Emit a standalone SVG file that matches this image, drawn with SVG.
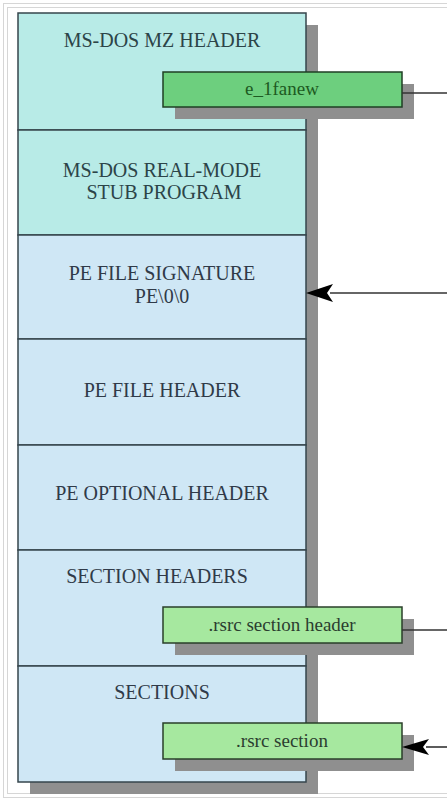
<svg xmlns="http://www.w3.org/2000/svg" width="447" height="800" viewBox="0 0 447 800">
  <defs>
    <style>
      .frame { fill: none; stroke: #d6d6d6; stroke-width: 1; }
      .shadow { fill: #8f8f8f; }
      .cellA { fill: #b8ebe7; stroke: #36464c; stroke-width: 1.5; }
      .cellB { fill: #cfe7f5; stroke: #36464c; stroke-width: 1.5; }
      text { font-family: 'Liberation Serif', 'DejaVu Serif', serif; text-anchor: middle; }
      .lbl { font-size: 20px; }
      .lblA { fill: #2c4448; }
      .lblB { fill: #303a48; }
      .g1 { fill: #6dcf7e; stroke: #1f3f24; stroke-width: 1.5; }
      .g2 { fill: #a6e89f; stroke: #2a3f2a; stroke-width: 1.5; }
      .glbl { font-size: 19px; }
      .conn { fill: none; stroke: #333; stroke-width: 1.6; }
      .head { fill: #000; }
    </style>
  </defs>
  <rect x="0" y="0" width="447" height="800" fill="#ffffff"/>
  <rect class="frame" x="3.5" y="3.5" width="460" height="794"/>
  <rect class="frame" x="7.5" y="7.5" width="460" height="786" stroke="#e6e6e6"/>

  <g id="main-shadow">
    <rect class="shadow" x="30" y="25" width="288" height="769"/>
  </g>

  <g id="mz-header">
    <rect class="cellA" x="18" y="13" width="288" height="117"/>
    <text class="lbl lblA" x="162" y="47" font-family="Liberation Serif, serif">MS-DOS MZ HEADER</text>
  </g>
  <g id="stub-program">
    <rect class="cellA" x="18" y="130" width="288" height="105"/>
    <text class="lbl lblA" x="162" y="177" font-family="Liberation Serif, serif">MS-DOS REAL-MODE</text>
    <text class="lbl lblA" x="164" y="199" font-family="Liberation Serif, serif">STUB PROGRAM</text>
  </g>
  <g id="pe-signature">
    <rect class="cellB" x="18" y="235" width="288" height="104"/>
    <text class="lbl lblB" x="162" y="280" font-family="Liberation Serif, serif">PE FILE SIGNATURE</text>
    <text class="lbl lblB" x="162" y="303" font-family="Liberation Serif, serif">PE\0\0</text>
  </g>
  <g id="pe-file-header">
    <rect class="cellB" x="18" y="339" width="288" height="106"/>
    <text class="lbl lblB" x="162" y="397" font-family="Liberation Serif, serif">PE FILE HEADER</text>
  </g>
  <g id="pe-optional-header">
    <rect class="cellB" x="18" y="445" width="288" height="105"/>
    <text class="lbl lblB" x="162" y="500" font-family="Liberation Serif, serif">PE OPTIONAL HEADER</text>
  </g>
  <g id="section-headers">
    <rect class="cellB" x="18" y="550" width="288" height="116"/>
    <text class="lbl lblB" x="157" y="583" font-family="Liberation Serif, serif">SECTION HEADERS</text>
  </g>
  <g id="sections">
    <rect class="cellB" x="18" y="666" width="288" height="116"/>
    <text class="lbl lblB" x="162" y="699" font-family="Liberation Serif, serif">SECTIONS</text>
  </g>

  <g id="e-lfanew">
    <rect class="shadow" x="175" y="84" width="239" height="35"/>
    <rect class="g1" x="163" y="72" width="239" height="35"/>
    <text class="glbl" x="282" y="95" fill="#1d5a22" font-family="Liberation Serif, serif">e_1fanew</text>
  </g>
  <g id="rsrc-section-header">
    <rect class="shadow" x="175" y="619" width="239" height="36"/>
    <rect class="g2" x="163" y="607" width="239" height="36"/>
    <text class="glbl" x="282" y="631" fill="#2b3d2f" font-family="Liberation Serif, serif">.rsrc section header</text>
  </g>
  <g id="rsrc-section">
    <rect class="shadow" x="175" y="735" width="239" height="36"/>
    <rect class="g2" x="163" y="723" width="239" height="36"/>
    <text class="glbl" x="282" y="747" fill="#2b3d2f" font-family="Liberation Serif, serif">.rsrc section</text>
  </g>

  <g id="connectors">
    <path class="conn" d="M402,93 H452"/>
    <path class="conn" d="M330,293 H452"/>
    <path class="head" d="M306,293 L333,284 L327,293 L333,302 Z"/>
    <path class="conn" d="M402,630 H452"/>
    <path class="conn" d="M426,747 H452"/>
    <path class="head" d="M402,747 L429,739 L423,747 L429,755 Z"/>
  </g>
</svg>
